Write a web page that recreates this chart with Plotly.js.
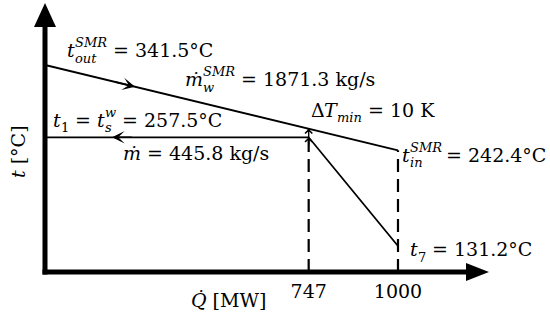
<!DOCTYPE html>
<html><head><meta charset="utf-8">
<script src="https://cdn.plot.ly/plotly-3.0.1.min.js"></script>
<style>html,body{margin:0;padding:0;background:#fff;}#chart{width:550px;height:316px;}</style>
</head><body><div id="chart"></div>
<script>
// ---- data ----
const Q_SMR = [0, 1000];            // MW, SMR coolant
const T_SMR = [341.5, 242.4];       // °C (outlet -> inlet)
const Q_WATER = [0, 747, 1000];     // MW, feedwater / steam side
const T_WATER = [257.5, 257.5, 131.2]; // °C
const M_SMR = 1871.3;               // kg/s
const M_WATER = 445.8;              // kg/s
const DT_MIN = 10;                  // K
const TICK_VALS = [747, 1000];
const TICK_TEXT = ['747', '1000'];

// ---- layout settings ----
const X_RANGE = [0, 1255];
const Y_RANGE = [101.0, 411.2];
const FONT = 'DejaVu Serif';
const FS = 19, SFS = 13;
const PW = 443, PH = 267;   // plot area size in px (for paper-unit conversions)

function interp(xs, ys, x) {
  for (let i = 0; i < xs.length - 1; i++) {
    if (x >= xs[i] && x <= xs[i + 1]) {
      return ys[i] + (ys[i + 1] - ys[i]) * (x - xs[i]) / (xs[i + 1] - xs[i]);
    }
  }
  return ys[ys.length - 1];
}
const cv = document.createElement('canvas').getContext('2d');
function tw(t, size, it) {
  cv.font = (it ? 'italic ' : '') + size + 'px "' + FONT + '"';
  return cv.measureText(t).width;
}
const annotations = [];
function piece(x, y, xs, dy, text, size, it, raise) {
  return {x: x, y: y, xref: 'x', yref: 'y', xanchor: 'left', yanchor: 'middle', showarrow: false,
    xshift: xs, yshift: -dy + raise + 0.346 * size,
    text: it ? '<i>' + text + '</i>' : text,
    font: {family: FONT, size: size, color: '#000'}, borderpad: 0, borderwidth: 0};
}
function label(x, y, dx, dy, parts) {
  let cur = dx;
  parts.forEach(p => {
    if (p.gap) cur += tw(' ', FS, false) * p.gap;
    if (p.t !== undefined) {
      annotations.push(piece(x, y, cur, dy, p.t, FS, p.it, 0));
      cur += tw(p.t, FS, p.it);
    } else {
      let w = 0;
      if (p.sup) { annotations.push(piece(x, y, cur, dy, p.sup.t, SFS, p.sup.it, 0.5 * FS)); w = Math.max(w, tw(p.sup.t, SFS, p.sup.it)); }
      if (p.sub) { annotations.push(piece(x, y, cur, dy, p.sub.t, SFS, p.sub.it, -0.3 * FS)); w = Math.max(w, tw(p.sub.t, SFS, p.sub.it)); }
      cur += w;
    }
  });
}
const Q_PINCH = Q_WATER[1];
const T_PINCH = interp(Q_SMR, T_SMR, Q_PINCH);
const degC = v => '= ' + v.toFixed(1) + '°C';

label(Q_SMR[0], T_SMR[0], 22, -8, [{t: 't', it: true}, {sup: {t: 'SMR', it: true}, sub: {t: 'out', it: true}}, {gap: 1, t: degC(T_SMR[0])}]);
label(Q_SMR[0], T_SMR[0], 140, 21, [{t: '\u1E41', it: true}, {sup: {t: 'SMR', it: true}, sub: {t: 'w', it: true}}, {gap: 1, t: '= ' + M_SMR.toFixed(1) + ' kg/s'}]);
label(Q_PINCH, T_PINCH, 2, -12, [{t: 'Δ'}, {t: 'T', it: true}, {sub: {t: 'min', it: true}}, {gap: 1, t: '= ' + DT_MIN + ' K'}]);
label(Q_WATER[0], T_WATER[0], 8, -11, [{t: 't', it: true}, {sub: {t: '1'}}, {gap: 1, t: '='}, {gap: 1, t: 't', it: true}, {sup: {t: 'w', it: true}, sub: {t: 's', it: true}}, {gap: 1, t: degC(T_WATER[0])}]);
label(Q_WATER[0], T_WATER[0], 78, 22, [{t: '\u1E41', it: true}, {gap: 1, t: '= ' + M_WATER.toFixed(1) + ' kg/s'}]);
label(Q_SMR[1], T_SMR[1], 4, 11, [{t: 't', it: true}, {sup: {t: 'SMR', it: true}, sub: {t: 'in', it: true}}, {gap: 0.8, t: degC(T_SMR[1])}]);
label(Q_WATER[2], T_WATER[2], 12, 10, [{t: 't', it: true}, {sub: {t: '7'}}, {gap: 1, t: degC(T_WATER[2])}]);

// flow direction arrows
annotations.push({x: 255, y: interp(Q_SMR, T_SMR, 255), ax: 195, ay: interp(Q_SMR, T_SMR, 195), xref: 'x', yref: 'y', axref: 'x', ayref: 'y',
  showarrow: true, arrowhead: 3, arrowwidth: 1.5, arrowsize: 1.4, arrowcolor: '#000', text: ''});
annotations.push({x: 190, y: T_WATER[0], ax: 250, ay: T_WATER[0], xref: 'x', yref: 'y', axref: 'x', ayref: 'y',
  showarrow: true, arrowhead: 3, arrowwidth: 1.5, arrowsize: 1.4, arrowcolor: '#000', text: ''});
// small chevrons at the pinch
[T_PINCH, T_WATER[1]].forEach(T => annotations.push({x: Q_PINCH, y: T, xref: 'x', yref: 'y', ax: 0, ay: 10,
  showarrow: true, arrowhead: 4, arrowwidth: 1.4, arrowsize: 1.0, arrowcolor: '#000', text: ''}));
// axis titles
annotations.push({x: -27 / PW, y: (272 - 152) / PH, xref: 'paper', yref: 'paper', showarrow: false, textangle: -90,
  xanchor: 'center', yanchor: 'middle',
  text: '<i>t</i> [°C]', font: {family: FONT, size: FS, color: '#000'}});
annotations.push({x: (228 - 45) / PW, y: -28 / PH, xref: 'paper', yref: 'paper', showarrow: false,
  xanchor: 'center', yanchor: 'middle',
  text: '<i>Q\u0307</i> [MW]', font: {family: FONT, size: FS, color: '#000'}});

const dash = {color: '#000', width: 2.2, dash: '13px,7px'};
const px = v => v / PW, py = v => v / PH;
const shapes = [
  {type: 'line', xref: 'x', yref: 'y', x0: Q_PINCH, x1: Q_PINCH, y0: Y_RANGE[0], y1: T_PINCH, line: dash},
  {type: 'line', xref: 'x', yref: 'y', x0: Q_SMR[1], x1: Q_SMR[1], y0: Y_RANGE[0], y1: T_SMR[1], line: dash},
  // axes
  {type: 'line', xref: 'paper', yref: 'paper', x0: 0, x1: 0, y0: py(-2.5), y1: py(250), line: {color: '#000', width: 5}},
  {type: 'line', xref: 'paper', yref: 'paper', x0: px(-2.5), x1: px(425), y0: 0, y1: 0, line: {color: '#000', width: 5}},
  {type: 'path', xref: 'paper', yref: 'paper', fillcolor: '#000', line: {width: 0},
    path: `M ${px(-11)} ${py(245)} L 0 ${py(269)} L ${px(11)} ${py(245)} Z`},
  {type: 'path', xref: 'paper', yref: 'paper', fillcolor: '#000', line: {width: 0},
    path: `M ${px(421)} ${py(9)} L ${px(444)} 0 L ${px(421)} ${py(-9)} Z`}
];

const traces = [
  {x: Q_SMR, y: T_SMR, mode: 'lines', line: {color: '#000', width: 1.8}, hoverinfo: 'skip'},
  {x: Q_WATER, y: T_WATER, mode: 'lines', line: {color: '#000', width: 1.8}, hoverinfo: 'skip'}
];

const layout = {
  width: 550, height: 316, margin: {l: 45, r: 62, t: 5, b: 44},
  paper_bgcolor: '#fff', plot_bgcolor: '#fff', showlegend: false,
  xaxis: {range: X_RANGE, showgrid: false, zeroline: false, showline: false, tickvals: TICK_VALS, ticktext: TICK_TEXT,
    ticks: '', ticklabelstandoff: 6, tickfont: {family: FONT, size: FS, color: '#000'}, fixedrange: true, automargin: false},
  yaxis: {range: Y_RANGE, showgrid: false, zeroline: false, showline: false, showticklabels: false, ticks: '', fixedrange: true, automargin: false},
  shapes: shapes, annotations: annotations
};
Plotly.newPlot('chart', traces, layout, {staticPlot: true, displayModeBar: false});
</script></body></html>
